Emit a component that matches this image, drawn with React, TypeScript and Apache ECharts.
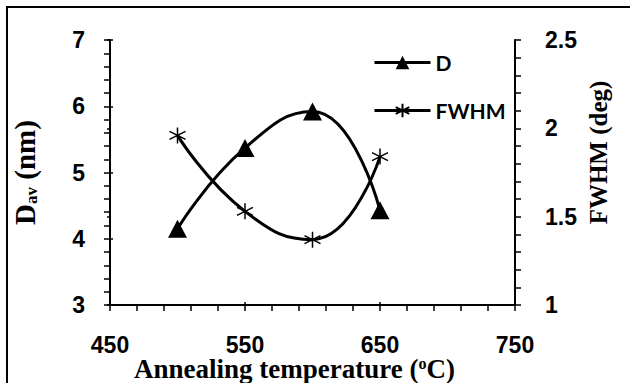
import React, { useEffect, useRef } from 'react';
import * as echarts from 'echarts';

// ---- data ----
const temperatures = [500, 550, 600, 650];
const dValues = [4.15, 5.37, 5.92, 4.43];
const fwhmValues = [1.96, 1.53, 1.37, 1.84];
const X_ORIGIN = 450; // first x tick
const xTickLabels = ['450', '550', '650', '750'];
const seriesNames = ['D', 'FWHM'];

const STAR = 'path://M0,-10L0,10M-8.66,-5L8.66,5M-8.66,5L8.66,-5';

const TICK_FONT = 'Liberation Sans';
const TITLE_FONT = 'Liberation Serif';

const lineCol = '#000';

function baseX(extra: any) {
  return Object.assign(
    {
      type: 'value',
      gridIndex: 0,
      min: 0,
      max: 300,
      interval: 100,
      position: 'bottom',
      nameMoveOverlap: false,
      splitLine: { show: false },
      minorSplitLine: { show: false },
    },
    extra
  );
}

function baseY(extra: any) {
  return Object.assign(
    {
      type: 'value',
      gridIndex: 0,
      nameMoveOverlap: false,
      splitLine: { show: false },
      minorSplitLine: { show: false },
    },
    extra
  );
}

const tickLabelStyle = {
  fontFamily: TICK_FONT,
  fontWeight: 'bold',
  fontSize: 23,
  lineHeight: 18,
  color: '#000',
};

export default function App() {
  const ref = useRef<HTMLDivElement>(null);

  useEffect(() => {
    document.body.style.margin = '0';
    if (!ref.current) return;
    const chart = echarts.init(ref.current, undefined, { renderer: 'svg' });

    const outerTick = { show: true, inside: false, length: 6, lineStyle: { color: lineCol, width: 1.5 } };
    const minorTick = (n: number) => ({ show: true, splitNumber: n, length: 6, lineStyle: { color: lineCol, width: 1.5 } });
    const innerTick = { show: true, inside: true, length: 3, lineStyle: { color: lineCol, width: 1.5 } };

    const option: any = {
      animation: false,
      backgroundColor: '#fff',
      grid: { left: 110, right: 115, top: 40, bottom: 78, containLabel: false, outerBoundsMode: 'none' },
      graphic: [
        {
          type: 'rect',
          x: 7,
          y: 7,
          silent: true,
          shape: { x: 0, y: 0, width: 700, height: 500 },
          style: { fill: 'none', stroke: '#000', lineWidth: 2 },
        },
      ],
      legend: {
        data: seriesNames,
        orient: 'vertical',
        left: 368,
        top: 47,
        itemWidth: 56,
        itemHeight: 17,
        itemGap: 27,
        lineStyle: { width: 3, color: lineCol },
        textStyle: { fontFamily: 'Lato', fontWeight: 'bold', fontSize: 21, color: '#000' },
      },
      xAxis: [
        baseX({
          axisLine: { show: true, onZero: false, lineStyle: { color: lineCol, width: 2 } },
          axisTick: outerTick,
          minorTick: minorTick(5),
          axisLabel: {
            ...tickLabelStyle,
            margin: 31,
            formatter: (v: number) => xTickLabels[Math.round(v / 100)],
          },
          name: '{t|Annealing temperature (}{sup|o}{t|C)}',
          nameLocation: 'middle',
          nameGap: 50,
          nameTextStyle: {
            padding: [0, 36, 0, 0],
            rich: {
              t: { fontFamily: TITLE_FONT, fontWeight: 'bold', fontSize: 27, color: '#000', lineHeight: 28 },
              sup: { fontFamily: TITLE_FONT, fontWeight: 'bold', fontSize: 16, color: '#000', verticalAlign: 'top', lineHeight: 12 },
            },
          },
        }),
        baseX({
          axisLine: { show: false },
          axisTick: innerTick,
          axisLabel: { show: false },
        }),
      ],
      yAxis: [
        baseY({
          min: 3,
          max: 7,
          interval: 1,
          position: 'left',
          axisLine: { show: true, onZero: false, lineStyle: { color: lineCol, width: 2 } },
          axisTick: outerTick,
          minorTick: minorTick(5),
          axisLabel: { ...tickLabelStyle, margin: 25 },
          name: '{t|D}{sub|av}{t| (nm)}',
          nameLocation: 'middle',
          nameRotate: 90,
          nameGap: 70,
          nameTextStyle: {
            rich: {
              t: { fontFamily: TITLE_FONT, fontWeight: 'bold', fontSize: 29, color: '#000', lineHeight: 30 },
              sub: { fontFamily: TITLE_FONT, fontWeight: 'bold', fontSize: 17, color: '#000', verticalAlign: 'bottom', lineHeight: 10 },
            },
          },
        }),
        baseY({
          min: 1,
          max: 2.5,
          interval: 0.5,
          position: 'right',
          axisLine: { show: true, onZero: false, lineStyle: { color: lineCol, width: 2 } },
          axisTick: outerTick,
          minorTick: minorTick(5),
          axisLabel: { ...tickLabelStyle, margin: 30 },
          name: 'FWHM (deg)',
          nameLocation: 'middle',
          nameRotate: 90,
          nameGap: 71,
          nameTextStyle: {
            fontFamily: TITLE_FONT,
            fontWeight: 'bold',
            fontSize: 25,
            color: '#000',
            padding: [0, 0, 0, 40],
          },
        }),
        baseY({
          min: 3,
          max: 7,
          interval: 1,
          position: 'left',
          axisLine: { show: false },
          axisTick: innerTick,
          axisLabel: { show: false },
        }),
        baseY({
          min: 1,
          max: 2.5,
          interval: 0.5,
          position: 'right',
          axisLine: { show: false },
          axisTick: innerTick,
          axisLabel: { show: false },
        }),
      ],
      series: [
        {
          name: seriesNames[0],
          type: 'line',
          xAxisIndex: 0,
          yAxisIndex: 0,
          data: temperatures.map((t, i) => [t - X_ORIGIN, dValues[i]]),
          smooth: 0.5,
          symbol: 'triangle',
          symbolSize: [19, 18],
          showAllSymbol: true,
          lineStyle: { color: lineCol, width: 3 },
          itemStyle: { color: lineCol },
          z: 3,
        },
        {
          name: seriesNames[1],
          type: 'line',
          xAxisIndex: 0,
          yAxisIndex: 1,
          data: temperatures.map((t, i) => [t - X_ORIGIN, fwhmValues[i]]),
          smooth: 0.5,
          symbol: STAR,
          symbolSize: [16, 16],
          showAllSymbol: true,
          lineStyle: { color: lineCol, width: 3 },
          itemStyle: { color: lineCol, borderColor: lineCol, borderWidth: 1.5 },
          z: 2,
        },
      ],
    };

    chart.setOption(option);
    return () => {
      chart.dispose();
    };
  }, []);

  return <div ref={ref} style={{ width: 630, height: 383 }} />;
}
